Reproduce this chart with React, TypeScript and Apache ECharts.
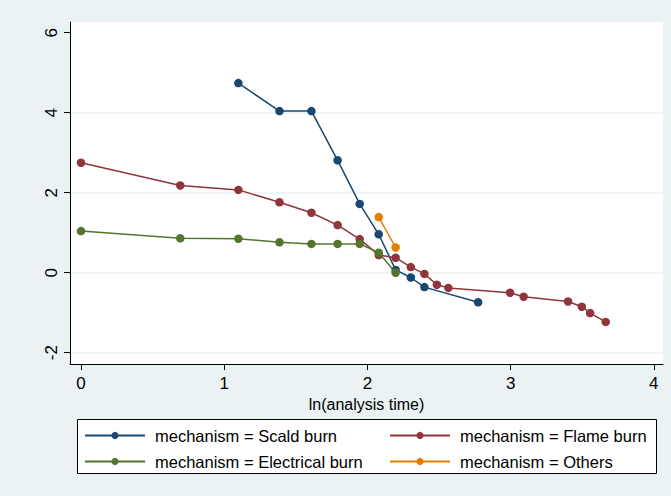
import React, { useEffect, useRef } from "react";
import * as echarts from "echarts";

const scaldX = [1.099, 1.386, 1.609, 1.792, 1.946, 2.079, 2.197, 2.303, 2.398, 2.773];
const scaldY = [4.74, 4.04, 4.04, 2.81, 1.72, 0.96, 0.07, -0.12, -0.36, -0.74];

const flameX = [0, 0.693, 1.099, 1.386, 1.609, 1.792, 1.946, 2.079, 2.197, 2.303, 2.398, 2.485, 2.565, 2.996, 3.091, 3.401, 3.497, 3.555, 3.664];
const flameY = [2.75, 2.18, 2.07, 1.76, 1.5, 1.19, 0.84, 0.44, 0.375, 0.14, -0.03, -0.3, -0.38, -0.5, -0.6, -0.72, -0.85, -1.01, -1.23];

const elecX = [0, 0.693, 1.099, 1.386, 1.609, 1.792, 1.946, 2.079, 2.197];
const elecY = [1.04, 0.86, 0.85, 0.76, 0.72, 0.72, 0.72, 0.5, 0.0];

const othersX = [2.079, 2.197];
const othersY = [1.39, 0.63];

const xTicks = [0, 1, 2, 3, 4];
const yTicks = [-2, 0, 2, 4, 6];
const yGridTicks = [-2, 0, 2, 4];

const seriesNames = [
  "mechanism = Scald burn",
  "mechanism = Flame burn",
  "mechanism = Electrical burn",
  "mechanism = Others",
];
const colors = ["#1a476f", "#90353b", "#55752f", "#e37e00"];

const FONT = "Liberation Sans, Arial, sans-serif";

function pairs(xs: number[], ys: number[]) {
  return xs.map((x, i) => [x, ys[i]]);
}

export default function App() {
  const ref = useRef<HTMLDivElement>(null);
  useEffect(() => {
    if (!ref.current) return;
    const chart = echarts.init(ref.current, null, { renderer: "svg" });
    const xMin = -0.0768;
    const xMax = 4.064;
    const yMin = -2.2825;
    const yMax = 6.2675;
    const datasets = [
      pairs(scaldX, scaldY),
      pairs(flameX, flameY),
      pairs(elecX, elecY),
      pairs(othersX, othersY),
    ];
    const legendText = {
      fontSize: 16.5,
      lineHeight: 16,
      color: "#000",
      fontFamily: FONT,
      padding: [0, 0, 0, 5],
    };
    chart.setOption({
      animation: false,
      backgroundColor: "#eaf2f3",
      grid: {
        left: 70,
        right: 8,
        top: 22,
        bottom: 132,
        show: true,
        backgroundColor: "#ffffff",
        borderWidth: 0,
        outerBoundsMode: "none",
      },
      xAxis: {
        type: "value",
        min: xMin,
        max: xMax,
        name: "ln(analysis time)",
        nameLocation: "middle",
        nameGap: 28,
        nameTextStyle: { fontSize: 16, color: "#000", fontFamily: FONT },
        axisLine: { show: true, onZero: false, lineStyle: { color: "#000", width: 1 } },
        axisTick: { show: true, length: 6, customValues: xTicks, lineStyle: { color: "#000" } },
        axisLabel: { customValues: xTicks, margin: 11, fontSize: 17, color: "#000", fontFamily: FONT },
        splitLine: { show: false },
      },
      yAxis: [
        {
          type: "value",
          min: yMin,
          max: yMax,
          axisLine: { show: true, onZero: false, lineStyle: { color: "#000", width: 1 } },
          axisTick: { show: true, length: 6, customValues: yTicks, lineStyle: { color: "#000" } },
          axisLabel: {
            customValues: yTicks,
            rotate: 90,
            margin: 10,
            fontSize: 17,
            color: "#000",
            fontFamily: FONT,
          },
          splitLine: { show: false },
        },
        {
          type: "value",
          min: yMin,
          max: yMax,
          position: "left",
          axisLine: { show: false, onZero: false },
          axisTick: { show: false, customValues: yGridTicks },
          axisLabel: { show: false, customValues: yGridTicks },
          splitLine: { show: true, lineStyle: { color: "#eaf2f3", width: 1.5 } },
        },
      ],
      legend: [
        {
          data: [seriesNames[0], seriesNames[2]],
          orient: "vertical",
          left: 84,
          top: 427,
          padding: 0,
          itemWidth: 60,
          itemHeight: 9,
          itemGap: 9,
          textStyle: legendText,
        },
        {
          data: [seriesNames[1], seriesNames[3]],
          orient: "vertical",
          left: 389,
          top: 427,
          padding: 0,
          itemWidth: 60,
          itemHeight: 9,
          itemGap: 9,
          textStyle: legendText,
        },
      ],
      graphic: [
        {
          type: "rect",
          z: -1,
          shape: { x: 77.5, y: 419.5, width: 579, height: 54 },
          style: { fill: "#ffffff", stroke: "#000", lineWidth: 1 },
        },
      ],
      series: datasets.map((d, i) => ({
        type: "line",
        name: seriesNames[i],
        data: d,
        yAxisIndex: 0,
        symbol: "circle",
        symbolSize: 8.5,
        color: colors[i],
        lineStyle: { width: 1.5, color: colors[i] },
        itemStyle: { color: colors[i] },
        z: 2 + i,
      })),
    });
    return () => chart.dispose();
  }, []);
  return (
    <div
      ref={ref}
      style={{ position: "absolute", left: 0, top: 0, width: 671, height: 496 }}
    />
  );
}
